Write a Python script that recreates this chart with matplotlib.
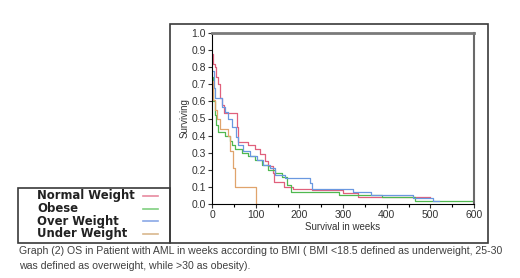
import matplotlib
matplotlib.use("Agg")
import matplotlib.pyplot as plt
from matplotlib.patches import Rectangle
from matplotlib.lines import Line2D

plt.rcParams['font.family'] = ['Liberation Sans', 'DejaVu Sans']

# Kaplan-Meier steps (weeks, surviving fraction)
normal_t = [0, 3, 6, 10, 14, 18, 22, 27, 57, 60, 83, 98, 110, 121, 129, 140, 142, 165, 185, 230, 300, 335, 500]
normal_s = [0.88, 0.82, 0.80, 0.74, 0.70, 0.62, 0.58, 0.53, 0.45, 0.36, 0.345, 0.32, 0.29, 0.25, 0.22, 0.18, 0.13, 0.10, 0.09, 0.08, 0.065, 0.04, 0.04]

obese_t = [0, 3, 6, 10, 14, 30, 41, 45, 53, 68, 83, 98, 114, 129, 144, 160, 171, 182, 290, 390, 465, 600]
obese_s = [0.74, 0.60, 0.52, 0.46, 0.42, 0.40, 0.37, 0.345, 0.32, 0.30, 0.28, 0.26, 0.23, 0.20, 0.18, 0.16, 0.11, 0.07, 0.055, 0.04, 0.02, 0.02]

over_t = [0, 4, 7, 22, 30, 37, 45, 56, 60, 72, 87, 102, 117, 133, 144, 167, 224, 228, 323, 364, 460, 505, 520]
over_s = [0.78, 0.68, 0.62, 0.57, 0.54, 0.50, 0.45, 0.39, 0.345, 0.31, 0.28, 0.26, 0.23, 0.21, 0.17, 0.15, 0.12, 0.09, 0.072, 0.05, 0.036, 0.02, 0.02]

under_t = [0, 3, 7, 11, 18, 37, 41, 48, 52, 101, 102]
under_s = [0.72, 0.61, 0.55, 0.50, 0.44, 0.40, 0.31, 0.21, 0.10, 0.0, 0.0]

labels = ['Normal Weight', 'Obese', 'Over Weight', 'Under Weight']
line_colors = ['#e0607c', '#4fb84f', '#6a98e0', '#e0a46c']
key_colors = ['#e88aa0', '#80cf80', '#8aa8e6', '#d9b88e']

caption = ["Graph (2) OS in Patient with AML in weeks according to BMI ( BMI <18.5 defined as underweight, 25-30",
           "was defined as overweight, while >30 as obesity)."]

fig = plt.figure(figsize=(5.2, 2.78), dpi=100)

# outer frame and legend box
fig.add_artist(Rectangle((170 / 520, 1 - 243 / 278), 318 / 520, 219 / 278, transform=fig.transFigure,
                         fill=False, edgecolor='#3a3a3a', linewidth=1.2))
fig.add_artist(Rectangle((18 / 520, 1 - 243 / 278), 152 / 520, 55 / 278, transform=fig.transFigure,
                         fill=False, edgecolor='#3a3a3a', linewidth=1.2))

ax = fig.add_axes([212 / 520, 1 - 204 / 278, 262 / 520, 171 / 278])
series = [(normal_t, normal_s), (obese_t, obese_s), (over_t, over_s), (under_t, under_s)]
for (t, s), c in zip(series, line_colors):
    ax.step(t, s, where='post', color=c, linewidth=0.9)

ax.set_xlim(0, 600)
ax.set_ylim(0, 1.0)
ax.set_xticks(range(0, 601, 100))
ax.set_xticks(range(50, 600, 100), minor=True)
ax.set_yticks([i / 10 for i in range(11)])
ax.set_yticklabels([f'{i / 10:.1f}' for i in range(11)])
ax.tick_params(labelsize=7.5, colors='#333333', length=3, width=0.8, pad=1.5)
ax.tick_params(which='minor', length=2.5, width=0.8)
ax.spines['top'].set_color('#7a7a7a')
ax.spines['top'].set_linewidth(2)
ax.spines['right'].set_color('#6a6a6a')
ax.spines['right'].set_linewidth(1.5)
ax.spines['left'].set_linewidth(0.8)
ax.spines['bottom'].set_linewidth(0.8)
ax.set_xlabel('Survival in weeks', fontsize=7, color='#333333', labelpad=1)
ax.set_ylabel('Surviving', fontsize=7, color='#333333', labelpad=1)

# hand-drawn key: labels left, line samples right
for i, (lab, c) in enumerate(zip(labels, key_colors)):
    y = 1 - (196 + i * 12.5) / 278
    fig.text(37 / 520, y, lab, fontsize=8.4, fontweight='bold', family='DejaVu Sans',
             color='#222222', va='center')
    fig.add_artist(Line2D([143 / 520, 158 / 520], [y, y], transform=fig.transFigure, color=c, linewidth=1.2))

for i, line in enumerate(caption):
    fig.text(19 / 520, 1 - (251 + i * 15) / 278, line, fontsize=7.6, color='#404040', va='center')

fig.savefig('out.png', dpi=100)
